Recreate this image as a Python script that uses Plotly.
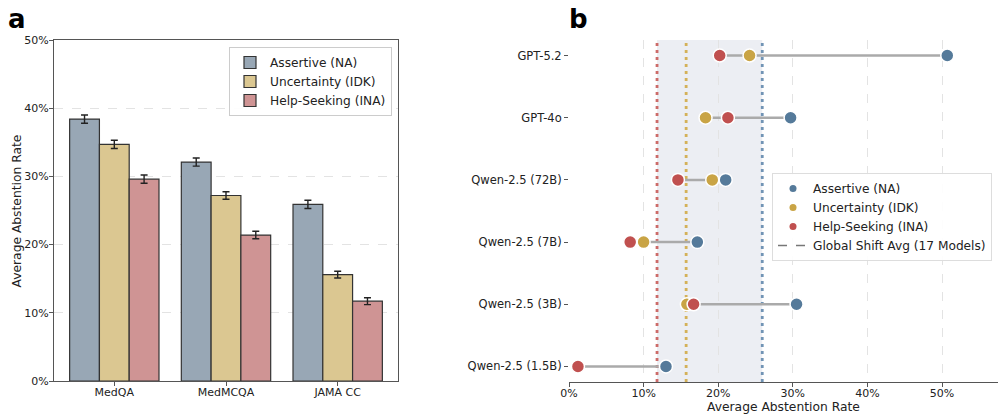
import plotly.graph_objects as go

W, H = 1005, 419

# ---------- Panel a data ----------
datasets = ["MedQA", "MedMCQA", "JAMA CC"]
na_vals = [38.4, 32.1, 25.9]
idk_vals = [34.7, 27.2, 15.6]
ina_vals = [29.6, 21.4, 11.7]
na_err = [0.6, 0.6, 0.6]
idk_err = [0.6, 0.55, 0.5]
ina_err = [0.6, 0.55, 0.5]

# ---------- Panel b data ----------
models = ["Qwen-2.5 (1.5B)", "Qwen-2.5 (3B)", "Qwen-2.5 (7B)",
          "Qwen-2.5 (72B)", "GPT-4o", "GPT-5.2"]
m_na = [13.0, 30.5, 17.2, 21.0, 29.7, 50.7]
m_idk = [1.1, 15.8, 10.0, 19.2, 18.3, 24.2]
m_ina = [1.2, 16.7, 8.2, 14.6, 21.3, 20.2]
avg_na, avg_idk, avg_ina = 25.9, 15.7, 11.8

pct_ticks = [0, 10, 20, 30, 40, 50]
pct_labels = ["0%", "10%", "20%", "30%", "40%", "50%"]
axis_title = "Average Abstention Rate"

FONT = "DejaVu Sans"
bar_cols = ["#98a7b5", "#dbc791", "#cf9494"]
dot_cols = ["#557a9a", "#c9a445", "#c0504f"]
names = ["Assertive (NA)", "Uncertainty (IDK)", "Help-Seeking (INA)"]

fig = go.Figure()

for vals, errs, col, nm in zip([na_vals, idk_vals, ina_vals],
                               [na_err, idk_err, ina_err], bar_cols, names):
    fig.add_trace(go.Bar(
        x=datasets, y=vals, name=nm, xaxis="x", yaxis="y",
        marker=dict(color=col, line=dict(color="#333333", width=1.2)),
        error_y=dict(type="data", array=errs, color="#222222",
                     thickness=1.4, width=3.5),
        legend="legend",
    ))

# connecting lines
lx, ly = [], []
for m, a, b, c in zip(models, m_na, m_idk, m_ina):
    lx += [min(a, b, c), max(a, b, c), None]
    ly += [m, m, None]
fig.add_trace(go.Scatter(x=lx, y=ly, mode="lines", xaxis="x2", yaxis="y2",
                         line=dict(color="#aaaaaa", width=2.5),
                         showlegend=False, hoverinfo="skip"))

for vals, col, nm in zip([m_na, m_idk, m_ina], dot_cols, names):
    fig.add_trace(go.Scatter(
        x=vals, y=models, mode="markers", name=nm, xaxis="x2", yaxis="y2",
        marker=dict(color=col, size=13, line=dict(color="white", width=1.5)),
        showlegend=False,
    ))
# legend-only entries (smaller symbols, as in the reference)
for col, nm in zip(dot_cols, names):
    fig.add_trace(go.Scatter(
        x=[None], y=[None], mode="markers", name=nm, xaxis="x2", yaxis="y2",
        marker=dict(color=col, size=7), legend="legend2",
    ))
fig.add_trace(go.Scatter(
    x=[None], y=[None], mode="lines", name="Global Shift Avg (17 Models)",
    xaxis="x2", yaxis="y2", line=dict(color="#777777", dash="dash", width=1.5),
    legend="legend2",
))

shapes = [
    dict(type="rect", xref="x2", yref="y2 domain", x0=avg_ina, x1=avg_na,
         y0=0, y1=1, fillcolor="#eceef3", line=dict(width=0), layer="below"),
]
for v, c in zip([avg_na, avg_idk, avg_ina], ["#7194b5", "#d4b158", "#cc6b69"]):
    shapes.append(dict(type="line", xref="x2", yref="y2 domain", x0=v, x1=v,
                       y0=0, y1=1,
                       line=dict(color=c, width=2.8, dash="3px,4px"),
                       layer="below"))


def px_x(p):
    return p / W


def px_y(p):
    return 1 - p / H


fig.update_layout(
    width=W, height=H,
    margin=dict(l=0, r=0, t=0, b=0, autoexpand=False),
    paper_bgcolor="white", plot_bgcolor="white",
    font=dict(family=FONT, size=12, color="#222222"),
    barmode="group", bargap=0.2, bargroupgap=0.0,
    shapes=shapes,
    xaxis=dict(domain=[px_x(54), px_x(398)], range=[-0.54, 2.54],
               automargin=False, ticklabelstandoff=-3,
               showline=True, mirror=True, linecolor="#555555", linewidth=1.2,
               ticks="outside", ticklen=4, tickcolor="#555555",
               tickfont=dict(size=11), showgrid=False, zeroline=False),
    yaxis=dict(domain=[px_y(381), px_y(40)], range=[0, 50],
               automargin=False, ticklabelstandoff=-2,
               tickvals=pct_ticks, ticktext=pct_labels,
               showline=True, mirror=True, linecolor="#555555", linewidth=1.2,
               ticks="outside", ticklen=4, tickcolor="#555555",
               tickfont=dict(size=11),
               showgrid=True, gridcolor="#e3e3e3", griddash="dash",
               zeroline=False),
    xaxis2=dict(domain=[px_x(569), px_x(998)], range=[0, 57.5], anchor="y2",
                automargin=False, ticklabelstandoff=-3,
                tickvals=pct_ticks, ticktext=pct_labels,
                showline=True, linecolor="#555555", linewidth=1.2,
                ticks="outside", ticklen=4, tickcolor="#555555",
                tickfont=dict(size=11),
                showgrid=True, gridcolor="#e3e3e3", griddash="dash",
                zeroline=False),
    yaxis2=dict(domain=[px_y(382), px_y(40)], anchor="x2",
                automargin=False,
                type="category", categoryorder="array", categoryarray=models,
                range=[-0.25, 5.25], showline=False,
                ticks="outside", ticklen=4, tickcolor="#555555",
                tickfont=dict(size=11.5), showgrid=False, zeroline=False),
    legend=dict(x=px_x(392), y=px_y(47), xanchor="right", yanchor="top",
                bgcolor="rgba(255,255,255,0.9)", bordercolor="#cccccc",
                borderwidth=1, font=dict(size=12.2), tracegroupgap=0),
    legend2=dict(x=px_x(992), y=px_y(173), xanchor="right", yanchor="top",
                 bgcolor="rgba(255,255,255,0.9)", bordercolor="#dddddd",
                 borderwidth=1, font=dict(size=12.2), itemwidth=30),
    annotations=[
        dict(text="<b>a</b>", x=px_x(6), y=px_y(2), xref="paper", yref="paper",
             xanchor="left", yanchor="top", showarrow=False,
             font=dict(size=26, family=FONT, color="black")),
        dict(text="<b>b</b>", x=px_x(567), y=px_y(2), xref="paper",
             yref="paper", xanchor="left", yanchor="top", showarrow=False,
             font=dict(size=26, family=FONT, color="black")),
        dict(text=axis_title, x=px_x(16.5), y=px_y(211), xref="paper",
             yref="paper", xanchor="center", yanchor="middle", textangle=-90,
             showarrow=False, font=dict(size=12.3, family=FONT,
                                        color="#222222")),
        dict(text=axis_title, x=px_x(783.5), y=px_y(407), xref="paper",
             yref="paper", xanchor="center", yanchor="middle",
             showarrow=False, font=dict(size=12.3, family=FONT,
                                        color="#222222")),
    ],
)

fig.write_html("out.html")
